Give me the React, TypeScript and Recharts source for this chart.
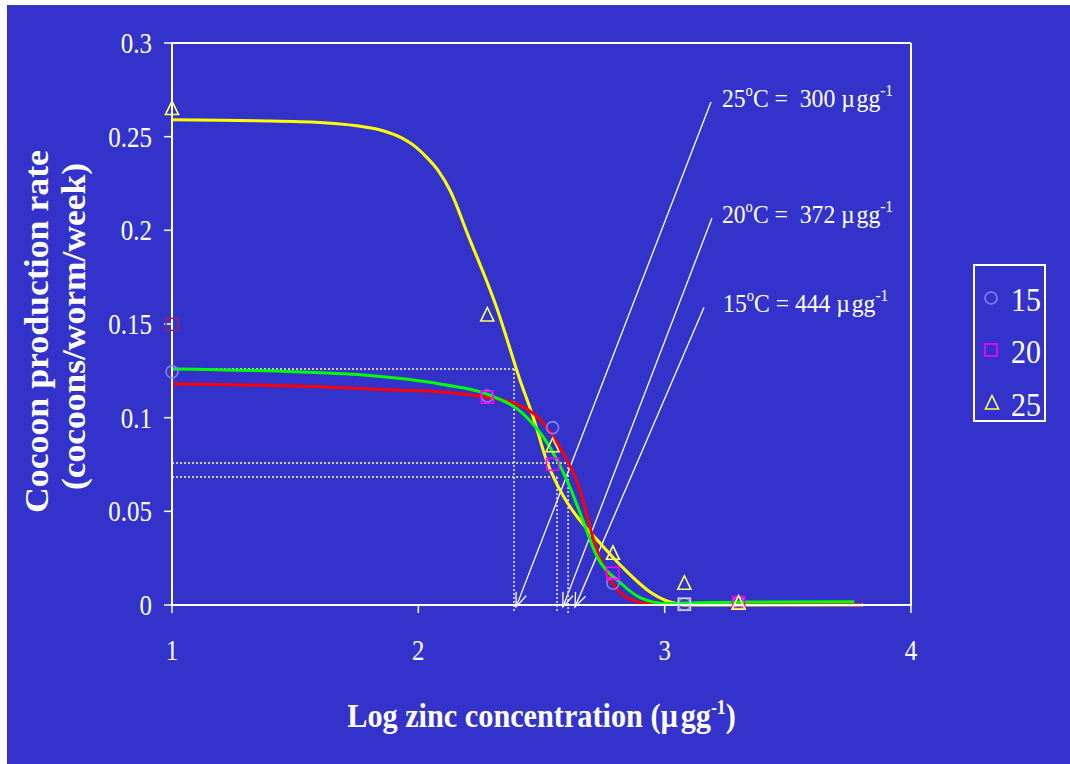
import React from 'react';
import { ComposedChart, Line, Scatter, XAxis, YAxis, ReferenceLine } from 'recharts';

const W = 1063;
const H = 759;
const FONT = '"Liberation Serif", "Times New Roman", Times, serif';
const BG = '#3333CC';

const xTicks = [1, 2, 3, 4];
const yTicks = [0, 0.05, 0.1, 0.15, 0.2, 0.25, 0.3];
const yTickLabels = ['0', '0.05', '0.1', '0.15', '0.2', '0.25', '0.3'];

const seriesNames = ['15', '20', '25'];

// observed cocoon production (log zinc, rate)
const obs15 = [
  { x: 1, y: 0.1245 },
  { x: 2.28, y: 0.1116 },
  { x: 2.545, y: 0.0947 },
  { x: 2.79, y: 0.0116 },
  { x: 3.08, y: 0.0004 },
  { x: 3.3, y: 0.0012 },
];
const obs20 = [
  { x: 1, y: 0.1498 },
  { x: 2.28, y: 0.1109 },
  { x: 2.545, y: 0.0751 },
  { x: 2.79, y: 0.0169 },
  { x: 3.08, y: 0.0004 },
  { x: 3.3, y: 0.0014 },
];
const obs25 = [
  { x: 1, y: 0.265 },
  { x: 2.28, y: 0.1548 },
  { x: 2.545, y: 0.085 },
  { x: 2.79, y: 0.0276 },
  { x: 3.08, y: 0.0116 },
  { x: 3.3, y: 0.001 },
];

// fitted curves
const fit15 = [
  { x: 1, y: 0.126 },
  { x: 1.5, y: 0.1245 },
  { x: 1.8, y: 0.1225 },
  { x: 2.088, y: 0.118 },
  { x: 2.291, y: 0.112 },
  { x: 2.426, y: 0.102 },
  { x: 2.535, y: 0.084 },
  { x: 2.602, y: 0.067 },
  { x: 2.657, y: 0.049 },
  { x: 2.725, y: 0.026 },
  { x: 2.819, y: 0.012 },
  { x: 2.9, y: 0.004 },
  { x: 3.01, y: 0.0008 },
  { x: 3.14, y: 0.0012 },
  { x: 3.35, y: 0.0016 },
  { x: 3.77, y: 0.0018 },
];
const fit20 = [
  { x: 1, y: 0.118 },
  { x: 1.3, y: 0.1175 },
  { x: 1.6, y: 0.1165 },
  { x: 1.9, y: 0.1148 },
  { x: 2.088, y: 0.1138 },
  { x: 2.291, y: 0.1105 },
  { x: 2.386, y: 0.108 },
  { x: 2.494, y: 0.099 },
  { x: 2.575, y: 0.084 },
  { x: 2.657, y: 0.061 },
  { x: 2.711, y: 0.035 },
  { x: 2.765, y: 0.017 },
  { x: 2.846, y: 0.004 },
  { x: 2.95, y: 0.0005 },
  { x: 3.2, y: 0.0002 },
  { x: 3.8, y: 0.0002 },
];
const fit25 = [
  { x: 1, y: 0.259 },
  { x: 1.35, y: 0.2585 },
  { x: 1.6, y: 0.2576 },
  { x: 1.75, y: 0.2558 },
  { x: 1.86, y: 0.253 },
  { x: 1.93, y: 0.2495 },
  { x: 1.98, y: 0.2455 },
  { x: 2.03, y: 0.2395 },
  { x: 2.08, y: 0.232 },
  { x: 2.13, y: 0.221 },
  { x: 2.2, y: 0.198 },
  { x: 2.32, y: 0.158 },
  { x: 2.413, y: 0.12 },
  { x: 2.467, y: 0.1 },
  { x: 2.521, y: 0.077 },
  { x: 2.589, y: 0.058 },
  { x: 2.657, y: 0.045 },
  { x: 2.738, y: 0.033 },
  { x: 2.83, y: 0.02 },
  { x: 2.941, y: 0.007 },
  { x: 3.022, y: 0.0016 },
  { x: 3.09, y: 0.0 },
  { x: 3.4, y: 0.0 },
  { x: 3.805, y: 0.0 },
];

// EC50 guide lines (dotted)
const guideY = [0.126, 0.0758, 0.0683];
const guideX = [2.3885, 2.608, 2.563];
const guideBottom = -0.0043;

// annotation arrows
const annTemps = ['25', '20', '15'];
const annValues = ['300', '372', '444'];
const annTipX = [2.397, 2.587, 2.636];
const annTopX = [3.188, 3.192, 3.16];
const annTopY = [0.2685, 0.2066, 0.159];
const annTipY = -0.001;
const annTextDx = [11, 10, 19];

const squareStroke = ['#8A2B62', '#FF00FF', '#FF00FF', '#FF00FF', '#D8D8FF', '#FF00FF'];

const CircleMark = (p: any) => (
  <circle cx={p.cx} cy={p.cy} r={6} fill="none" stroke="#8484F4" strokeWidth={1.6} />
);
const SquareMark = (p: any) => {
  const i = obs20.findIndex((d) => p.payload && d.x === p.payload.x);
  return (
    <rect x={p.cx - 6} y={p.cy - 6} width={12} height={12} fill="none"
      stroke={squareStroke[i >= 0 ? i : 1]} strokeWidth={1.6} />
  );
};
const TriangleMark = (p: any) => (
  <path d={`M${p.cx},${p.cy - 7.5} L${p.cx + 6.5},${p.cy + 6} L${p.cx - 6.5},${p.cy + 6} Z`}
    fill="none" stroke="#FFFF66" strokeWidth={1.6} />
);

const YTick = (p: any) => {
  const idx = yTicks.indexOf(p.payload.value);
  return (
    <text transform={`translate(${p.x},${p.y + 10}) scale(0.86,1)`} textAnchor="end"
      fill="#fff" fontSize={29} fontFamily={FONT}>{yTickLabels[idx]}</text>
  );
};
const XTick = (p: any) => (
  <text transform={`translate(${p.x},${p.y + 45}) scale(0.86,1)`} textAnchor="middle"
    fill="#fff" fontSize={29} fontFamily={FONT}>{String(p.payload.value)}</text>
);

const XLabel = (p: any) => {
  const vb = p.viewBox || { x: 165, y: 600, width: 739, height: 60 };
  const cx = vb.x + vb.width / 2;
  const by = vb.y + 122;
  return (
    <g transform={`translate(${cx},${by}) scale(0.89,1)`}>
      <text textAnchor="middle" fill="#fff" fontSize={34} fontWeight="bold" fontFamily={FONT}>
        Log zinc concentration (µ<tspan dx={3}>gg</tspan><tspan fontSize={20} dy={-13}>-1</tspan><tspan dy={13}>)</tspan>
      </text>
    </g>
  );
};

const YLabel = (p: any) => {
  const vb = p.viewBox || { x: 0, y: 38, width: 165, height: 562 };
  const cy = vb.y + vb.height / 2;
  return (
    <g>
      <text transform={`translate(41,${cy + 7.5}) rotate(-90)`} textAnchor="middle" fill="#fff"
        fontSize={34} fontWeight="bold" fontFamily={FONT} textLength={363} lengthAdjust="spacingAndGlyphs">
        Cocoon production rate
      </text>
      <text transform={`translate(78,${cy + 2.5}) rotate(-90)`} textAnchor="middle" fill="#fff"
        fontSize={34} fontWeight="bold" fontFamily={FONT} textLength={327} lengthAdjust="spacingAndGlyphs">
        (cocoons/worm/week)
      </text>
    </g>
  );
};

const makeArrow = (i: number) => (p: any) => {
  let { x1, y1, x2, y2 } = p;
  if (y1 < y2) {
    [x1, x2] = [x2, x1];
    [y1, y2] = [y2, y1];
  }
  // (x1,y1) = tip at the bottom, (x2,y2) = top end
  const ang = Math.atan2(y2 - y1, x2 - x1);
  const L = 15;
  const s = 0.37;
  const a1x = x1 + L * Math.cos(ang - s);
  const a1y = y1 + L * Math.sin(ang - s);
  const a2x = x1 + L * Math.cos(ang + s);
  const a2y = y1 + L * Math.sin(ang + s);
  const eq = annTemps[i] === '15' ? 'C = ' : 'C =  ';
  return (
    <g>
      <line x1={x1} y1={y1} x2={x2} y2={y2} stroke="#fff" strokeWidth={1.3} />
      <polyline points={`${a1x},${a1y} ${x1},${y1} ${a2x},${a2y}`} fill="none" stroke="#fff" strokeWidth={1.3} />
      <g transform={`translate(${x2 + annTextDx[i]},${y2 + 5}) scale(0.91,1)`}>
        <text fill="#fff" fontSize={26} fontFamily={FONT} style={{ whiteSpace: 'pre' }}>
          {annTemps[i]}
          <tspan fontSize={16} dy={-11}>o</tspan>
          <tspan dy={11}>{eq}{annValues[i]} µ</tspan>
          <tspan dx={2}>gg</tspan>
          <tspan fontSize={17} dy={-11}>-1</tspan>
        </text>
      </g>
    </g>
  );
};

const Legend = () => {
  const ys = [293, 345, 398];
  const marks = [
    <circle key="c" cx={984} cy={ys[0]} r={6} fill="none" stroke="#8484F4" strokeWidth={1.6} />,
    <rect key="s" x={978} y={ys[1] - 6} width={12} height={12} fill="none" stroke="#FF00FF" strokeWidth={1.6} />,
    <path key="t" d={`M985,${ys[2] - 7.5} L991.5,${ys[2] + 6} L978.5,${ys[2] + 6} Z`} fill="none" stroke="#FFFF66" strokeWidth={1.6} />,
  ];
  return (
    <svg width={W} height={H} style={{ position: 'absolute', left: 0, top: 0, pointerEvents: 'none' }}>
      <rect x={967} y={260} width={71} height={156} fill="none" stroke="#fff" strokeWidth={2} />
      {seriesNames.map((n, i) => (
        <g key={n}>
          {marks[i]}
          <text transform={`translate(1004,${ys[i] + 13}) scale(0.88,1)`} fill="#fff" fontSize={34} fontFamily={FONT}>{n}</text>
        </g>
      ))}
    </svg>
  );
};

export default function App() {
  return (
    <div style={{ position: 'absolute', left: 7, top: 5, width: W, height: H, background: BG, overflow: 'hidden' }}>
      <ComposedChart width={W} height={H} margin={{ top: 38, right: 159, left: 0, bottom: 99 }}>
        <XAxis type="number" dataKey="x" domain={[1, 4]} ticks={xTicks}
          axisLine={{ stroke: '#fff', strokeWidth: 2 }} tickLine={{ stroke: '#fff', strokeWidth: 1.5 }}
          tickSize={8} height={60} tick={<XTick />} label={{ content: (p: any) => <XLabel {...p} /> }} />
        <YAxis type="number" dataKey="y" domain={[0, 0.3]} ticks={yTicks}
          axisLine={{ stroke: '#fff', strokeWidth: 2 }} tickLine={{ stroke: '#fff', strokeWidth: 1.5 }}
          tickSize={8} tickMargin={12} width={165} tick={<YTick />} label={{ content: (p: any) => <YLabel {...p} /> }} />
        <ReferenceLine y={0.3} stroke="#fff" strokeWidth={2} ifOverflow="visible" />
        <ReferenceLine x={4} stroke="#fff" strokeWidth={2} ifOverflow="visible" />
        {guideY.map((gy, i) => (
          <ReferenceLine key={`h${i}`} segment={[{ x: 1, y: gy }, { x: guideX[i], y: gy }]}
            stroke="#fff" strokeWidth={1.4} strokeDasharray="2 2" ifOverflow="visible" />
        ))}
        {guideX.map((gx, i) => (
          <ReferenceLine key={`v${i}`} segment={[{ x: gx, y: guideY[i] }, { x: gx, y: guideBottom }]}
            stroke="#fff" strokeWidth={1.4} strokeDasharray="2 2" ifOverflow="visible" />
        ))}
        {annTemps.map((t, i) => (
          <ReferenceLine key={`a${t}`} segment={[{ x: annTipX[i], y: annTipY }, { x: annTopX[i], y: annTopY[i] }]}
            stroke="#fff" ifOverflow="visible" shape={makeArrow(i)} />
        ))}
        <Scatter name="15" data={obs15} shape={CircleMark} isAnimationActive={false} />
        <Scatter name="20" data={obs20} shape={SquareMark} isAnimationActive={false} />
        <Scatter name="25" data={obs25} shape={TriangleMark} isAnimationActive={false} />
        <Line data={fit25} dataKey="y" type="monotone" stroke="#FFFF00" strokeWidth={3} dot={false} activeDot={false} isAnimationActive={false} />
        <Line data={fit20} dataKey="y" type="monotone" stroke="#FF0000" strokeWidth={3} dot={false} activeDot={false} isAnimationActive={false} />
        <Line data={fit15} dataKey="y" type="monotone" stroke="#00FF00" strokeWidth={3} dot={false} activeDot={false} isAnimationActive={false} />
      </ComposedChart>
      <Legend />
    </div>
  );
}
